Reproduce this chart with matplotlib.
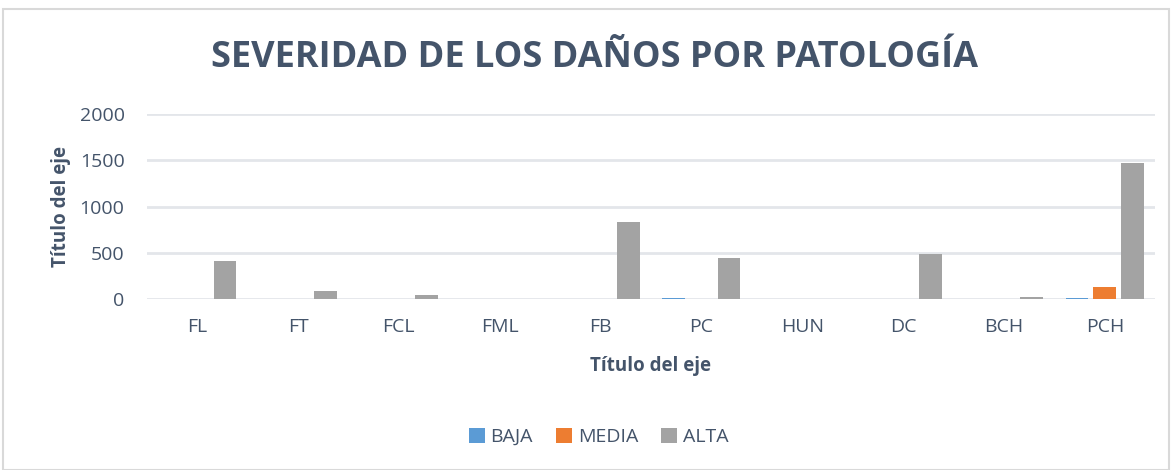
import numpy as np
import matplotlib.pyplot as plt
from matplotlib.patches import Rectangle

categorias = ['FL', 'FT', 'FCL', 'FML', 'FB', 'PC', 'HUN', 'DC', 'BCH', 'PCH']
baja = [0, 0, 0, 0, 0, 10, 0, 0, 0, 10]
media = [0, 0, 0, 0, 0, 0, 0, 0, 0, 130]
alta = [410, 88, 45, 0, 832, 445, 0, 488, 22, 1470]
y_ticks = [0, 500, 1000, 1500, 2000]

txt = '#44546A'
plt.rcParams['font.family'] = ['Open Sans', 'DejaVu Sans']

fig = plt.figure(figsize=(11.74, 4.7), dpi=100)
# marco del grafico
fig.patches.append(Rectangle((3 / 1174, 0), 1166 / 1174, 1 - 9 / 470, transform=fig.transFigure,
                             fill=False, edgecolor='#D9D9D9', linewidth=1.5))

ax = fig.add_axes([0.125, 0.364, 0.859, 0.393])
x = np.arange(len(categorias))
w = 0.225
ax.bar(x - 0.275, baja, w, color='#5B9BD5', label='BAJA', zorder=3)
ax.bar(x, media, w, color='#ED7D31', label='MEDIA', zorder=3)
ax.bar(x + 0.275, alta, w, color='#A3A3A3', label='ALTA', zorder=3)

ax.set_xlim(-0.5, len(categorias) - 0.5)
ax.set_ylim(0, 2000)
ax.set_yticks(y_ticks)
ax.set_xticks(x)
ax.set_xticklabels(categorias)
ax.grid(axis='y', color='#E3E6EA', linewidth=2, zorder=0)
for s in ax.spines.values():
    s.set_visible(False)
ax.tick_params(length=0, labelsize=14, colors=txt)
ax.tick_params(axis='y', pad=16)
ax.tick_params(axis='x', pad=14)

ax.set_xlabel('Título del eje', fontsize=13.5, fontweight='bold', color=txt, labelpad=14)
ax.set_ylabel('Título del eje', fontsize=13.5, fontweight='bold', color=txt, labelpad=6)

fig.text(0.506, 0.877, 'SEVERIDAD DE LOS DAÑOS POR PATOLOGÍA', ha='center', va='center',
         fontsize=26, fontweight='bold', color=txt)

fig.legend(loc='center', bbox_to_anchor=(0.51, 0.07), ncol=3, frameon=False,
           fontsize=14, labelcolor=txt, handlelength=0.8, handleheight=0.8,
           handletextpad=0.3, columnspacing=1.2)

fig.savefig('out.png', dpi=100)
